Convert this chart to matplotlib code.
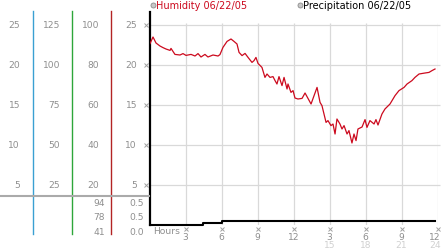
import matplotlib
matplotlib.use("Agg")
import matplotlib.pyplot as plt
from matplotlib.lines import Line2D
from matplotlib.transforms import blended_transform_factory as blend

# ---------------- data ----------------
hum_hours = [0.0, 0.25, 0.5, 0.83, 1.08, 1.33, 1.67, 1.75, 2.08, 2.5, 2.75, 3.0, 3.42, 3.75,
             4.0, 4.25, 4.58, 4.83, 5.25, 5.67, 5.83, 6.08, 6.42, 6.75, 7.0, 7.25, 7.42,
             7.67, 7.92, 8.17, 8.5, 8.67, 8.83, 9.0, 9.33, 9.58, 9.75, 10.0, 10.25, 10.42,
             10.58, 10.75, 11.0, 11.17, 11.42, 11.5, 11.75, 11.92, 12.08, 12.33, 12.67,
             12.92, 13.42, 13.92, 14.17, 14.33, 14.5, 14.67, 14.83, 15.08, 15.25, 15.42,
             15.58, 15.83, 16.0, 16.17, 16.42, 16.58, 16.75, 16.83, 17.0, 17.17, 17.33,
             17.67, 17.92, 18.08, 18.33, 18.67, 18.83, 19.0, 19.33, 19.58, 20.0, 20.42,
             20.75, 21.17, 21.42, 21.83, 22.08, 22.42, 22.92, 23.25, 23.5, 23.75]
hum_values = [90.7, 94.0, 91.0, 89.5, 88.7, 88.0, 87.3, 88.3, 85.3, 85.0, 85.7, 84.8, 85.3, 84.5,
              85.7, 84.0, 85.3, 84.0, 85.0, 84.5, 85.2, 88.8, 91.8, 93.0, 91.8, 90.5, 86.3,
              84.7, 85.8, 83.8, 81.3, 82.2, 83.8, 80.8, 78.8, 73.8, 75.5, 73.8, 74.2, 72.2,
              70.5, 74.2, 69.7, 73.8, 68.0, 70.5, 66.3, 67.2, 63.5, 63.0, 63.3,
              66.0, 60.5, 68.8, 61.3, 59.7, 55.5, 51.3, 52.2, 49.7, 50.5, 45.5,
              53.0, 50.5, 48.0, 49.7, 45.5, 47.2, 43.0, 41.0, 45.5, 42.2, 48.0,
              49.0, 52.7, 48.8, 52.2, 50.5, 52.7, 50.0, 55.5, 58.0, 60.5, 64.7,
              67.2, 68.8, 70.5, 72.2, 73.8, 75.5, 76.0, 76.3, 77.2, 78.0]

precip_hours = [0.0, 4.45, 6.0, 23.75]
precip_values = [0.0, 0.2, 0.5, 0.5]

col1_labels = ["25", "20", "15", "10", "5"]
col2_labels = ["125", "100", "75", "50", "25"]
col3_labels = ["100", "80", "60", "40", "20"]
col4_labels = ["25", "20", "15", "10", "5"]
hum_grid = [100, 80, 60, 40, 20]
hum_stats = ["94", "78", "41"]
precip_stats = ["0.5", "0.5", "0.0"]

hour_ticks = [3, 6, 9, 12, 15, 18, 21, 24]
hour_labels_1 = ["3", "6", "9", "12", "3", "6", "9", "12"]
hour_ticks_2 = [15, 18, 21, 24]
hour_labels_2 = ["15", "18", "21", "24"]

legend_labels = ["Humidity 06/22/05", "Precipitation 06/22/05"]

# ---------------- figure ----------------
W, H = 442, 253
fig = plt.figure(figsize=(W / 100, H / 100), dpi=100)
fig.patch.set_facecolor("white")

def fx(x):
    return x / W

def fy(y):
    return 1 - y / H

GRAY = "#8e8e8e"
GRID = "#d9d9d9"
RED = "#cc0a1e"
FS = 6.6

ax = fig.add_axes([fx(150), fy(226), 288 / W, 213 / H])
ax.set_xlim(0, 24)
ax.set_ylim(0, 106.5)
ax.set_xticks([])
ax.set_yticks([])
for s in ["top", "right", "bottom"]:
    ax.spines[s].set_visible(False)
ax.spines["left"].set_color("black")
ax.spines["left"].set_linewidth(1.6)
ax.patch.set_alpha(0)

# gridlines
ax.hlines(hum_grid, 0, 24.2, color=GRID, lw=0.9, zorder=0, clip_on=False)
ax.vlines(hour_ticks, 0, 101, color=GRID, lw=0.9, zorder=0)

# humidity line
ax.plot(hum_hours, hum_values, color=RED, lw=0.9, zorder=3)

# precipitation
axp = ax.twinx()
axp.set_ylim(0, 26.6)
axp.set_yticks([])
for s in axp.spines.values():
    s.set_visible(False)
axp.step(precip_hours, precip_values, where="post", color="black", lw=1.5, clip_on=False)

# left "marks" at humidity gridlines
tr_left = blend(fig.transFigure, ax.transData)
ax.plot([fx(146)] * len(hum_grid), hum_grid, ls="none", marker="x", ms=2.3, mew=0.7,
        color="#a0a0a0", transform=tr_left, clip_on=False)

# left columns
for labels, xr in [(col1_labels, 20), (col2_labels, 60), (col3_labels, 99), (col4_labels, 137)]:
    for lab, v in zip(labels, hum_grid):
        fig.text(fx(xr), v, lab, transform=tr_left, ha="right", va="center",
                 fontsize=FS, color=GRAY)

for lab, yp in zip(hum_stats, [204, 218, 233]):
    fig.text(fx(105), fy(yp), lab, ha="right", va="center", fontsize=FS, color=GRAY)
for lab, yp in zip(precip_stats, [204, 218, 233]):
    fig.text(fx(144), fy(yp), lab, ha="right", va="center", fontsize=FS, color=GRAY)

# colored separator lines
for xl, c in [(33, "#3aa0d2"), (72, "#2ea63a"), (111, "#b32424")]:
    fig.add_artist(Line2D([fx(xl)] * 2, [fy(12), fy(235)], color=c, lw=1.0))
fig.add_artist(Line2D([0, fx(149)], [fy(197)] * 2, color="#aaaaaa", lw=1.5))

# hour labels
tr_bot = blend(ax.transData, fig.transFigure)
fig.text(fx(153), fy(232), "Hours", ha="left", va="center", fontsize=FS, color=GRAY)
ax.plot(hour_ticks, [fy(230)] * len(hour_ticks), ls="none", marker="x", ms=2.3, mew=0.7,
        color="#a0a0a0", transform=tr_bot, clip_on=False)
for h, lab in zip(hour_ticks, hour_labels_1):
    if h == 24:
        ax.text(441 / W, fy(238), lab, transform=fig.transFigure, ha="right", va="center",
                fontsize=FS, color=GRAY)
    else:
        ax.text(h - 0.05, fy(238), lab, transform=tr_bot, ha="center", va="center",
                fontsize=FS, color=GRAY)
for h, lab in zip(hour_ticks_2, hour_labels_2):
    if h == 24:
        ax.text(441 / W, fy(246), lab, transform=fig.transFigure, ha="right", va="center",
                fontsize=FS, color="#d0d0d0")
    else:
        ax.text(h - 0.05, fy(246), lab, transform=tr_bot, ha="center", va="center",
                fontsize=FS, color="#d0d0d0")

# legend
for xc, xt, lab, col in [(153, 156, legend_labels[0], RED), (300, 303, legend_labels[1], "black")]:
    fig.add_artist(Line2D([fx(xc)], [fy(6)], ls="none", marker="o", ms=3.6,
                          mfc="#c8c8c8", mec="#8c8c8c", mew=0.6))
    fig.text(fx(xt), fy(6), lab, ha="left", va="center", fontsize=7, color=col)

fig.savefig("out.png", dpi=100)
